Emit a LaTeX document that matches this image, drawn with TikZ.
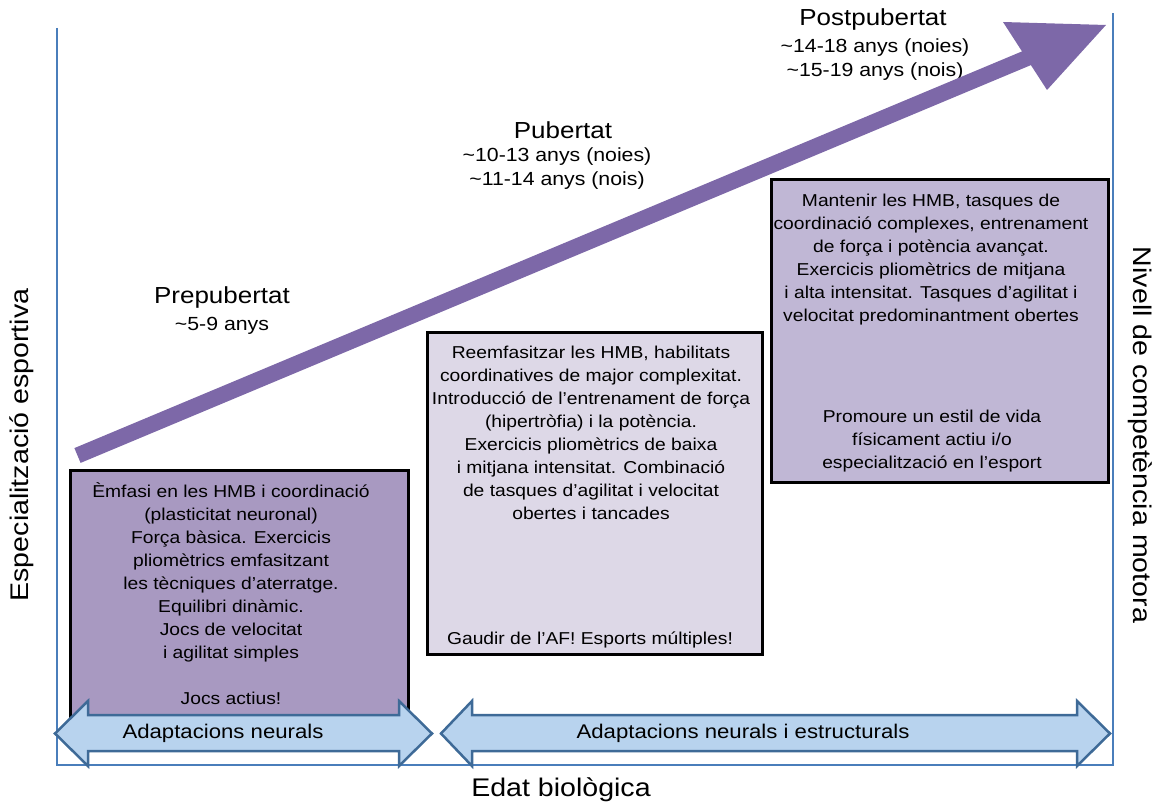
\documentclass[tikz,border=0pt]{standalone}
\usepackage{fontspec}
\setmainfont{Liberation Sans}[FakeStretch=1.12]
\definecolor{frameblue}{RGB}{74,126,187}
\definecolor{arrowpurple}{RGB}{125,104,168}
\definecolor{boxone}{RGB}{168,153,193}
\definecolor{boxtwo}{RGB}{221,216,231}
\definecolor{boxthree}{RGB}{192,183,213}
\definecolor{bandfill}{RGB}{184,211,238}
\definecolor{banddark}{RGB}{62,106,151}
\begin{document}
\begin{tikzpicture}[x=1pt,y=-1pt,
  frameline/.style={draw=frameblue, line width=1.5pt},
  stage/.style={font=\fontsize{23.2}{27}\selectfont, align=center, inner sep=0pt},
  age/.style={font=\fontsize{19}{24}\selectfont, align=center, inner sep=0pt},
  boxtext/.style={font=\fontsize{17.2}{23}\selectfont, align=center, inner sep=0pt},
  card/.style={draw=black, line width=3pt},
  axislabel/.style={font=\fontsize{25.5}{28}\selectfont, inner sep=0pt},
  band/.style={draw=banddark, fill=bandfill, line width=2.5pt, line join=miter},
  bandtext/.style={font=\fontsize{19.8}{22}\selectfont, inner sep=0pt}]
\useasboundingbox (0,0) rectangle (1159,805);

% frame
\coordinate (fTL) at (57,28);
\coordinate (fBL) at (57,765);
\coordinate (fBR) at (1113,765);
\coordinate (fTR) at (1113,13);
\draw[frameline] (fTL) -- (fBL) -- (fBR) -- (fTR);

% stage labels
\node[stage] (pre) at (222,298) {Prepubertat};
\node[age] (preage) at (222,326) {\textasciitilde5-9 anys};
\node[stage] (pub) at (563,130) {Pubertat};
\node[age] (pubage) at (557,169) {\textasciitilde10-13 anys (noies)\\\textasciitilde11-14 anys (nois)};
\node[stage] (post) at (873,20) {Postpubertat};
\node[age] (postage) at (875,60) {\textasciitilde14-18 anys (noies)\\\textasciitilde15-19 anys (nois)};

% big rising arrow
\fill[arrowpurple] (74.4,448.1) -- (1022,51.4) -- (1003,22) -- (1106,25) -- (1047,90) -- (1030.9,65.1) -- (80.6,462.9) -- cycle;

% boxes
\draw[card, fill=boxone] (70,470) rectangle (408,716);
\draw[card, fill=boxtwo] (427,332) rectangle (762,654);
\draw[card, fill=boxthree] (771,180) rectangle (1108,482);

\node[boxtext] (t1) at (231,594) {Èmfasi en les HMB i coordinació\\(plasticitat neuronal)\\Força bàsica. Exercicis\\pliomètrics emfasitzant\\les tècniques d’aterratge.\\Equilibri dinàmic.\\Jocs de velocitat\\i agilitat simples\\[23pt]Jocs actius!};

\node[boxtext] (t2) at (591,433) {Reemfasitzar les HMB, habilitats\\coordinatives de major complexitat.\\Introducció de l’entrenament de força\\(hipertròfia) i la potència.\\Exercicis pliomètrics de baixa\\i mitjana intensitat. Combinació\\de tasques d’agilitat i velocitat\\obertes i tancades};
\node[boxtext] (t2b) at (590,640) {Gaudir de l’AF! Esports múltiples!};

\node[boxtext] (t3) at (931,260) {Mantenir les HMB, tasques de\\coordinació complexes, entrenament\\de força i potència avançat.\\Exercicis pliomètrics de mitjana\\i alta intensitat. Tasques d’agilitat i\\velocitat predominantment obertes};
\node[boxtext] (t3b) at (932,441.5) {Promoure un estil de vida\\físicament actiu i/o\\especialització en l’esport};

% double arrows
\draw[band] (55,733.5) -- (88,701) -- (88,715) -- (399,715) -- (399,701) -- (432,733.5) -- (399,766) -- (399,751) -- (88,751) -- (88,766) -- cycle;
\draw[band] (441,733.5) -- (472,701) -- (472,715) -- (1077,715) -- (1077,701) -- (1110,733.5) -- (1077,766) -- (1077,751) -- (472,751) -- (472,766) -- cycle;
\node[bandtext] (a1) at (223,733) {Adaptacions neurals};
\node[bandtext] (a2) at (743,733) {Adaptacions neurals i estructurals};

% axis labels
\node[axislabel] (xl) at (561,790) {Edat biològica};
\node[axislabel, rotate=90] (yl) at (22,445) {Especialització esportiva};
\node[axislabel, rotate=-90] (yr) at (1140,435) {Nivell de competència motora};
\end{tikzpicture}
\end{document}
